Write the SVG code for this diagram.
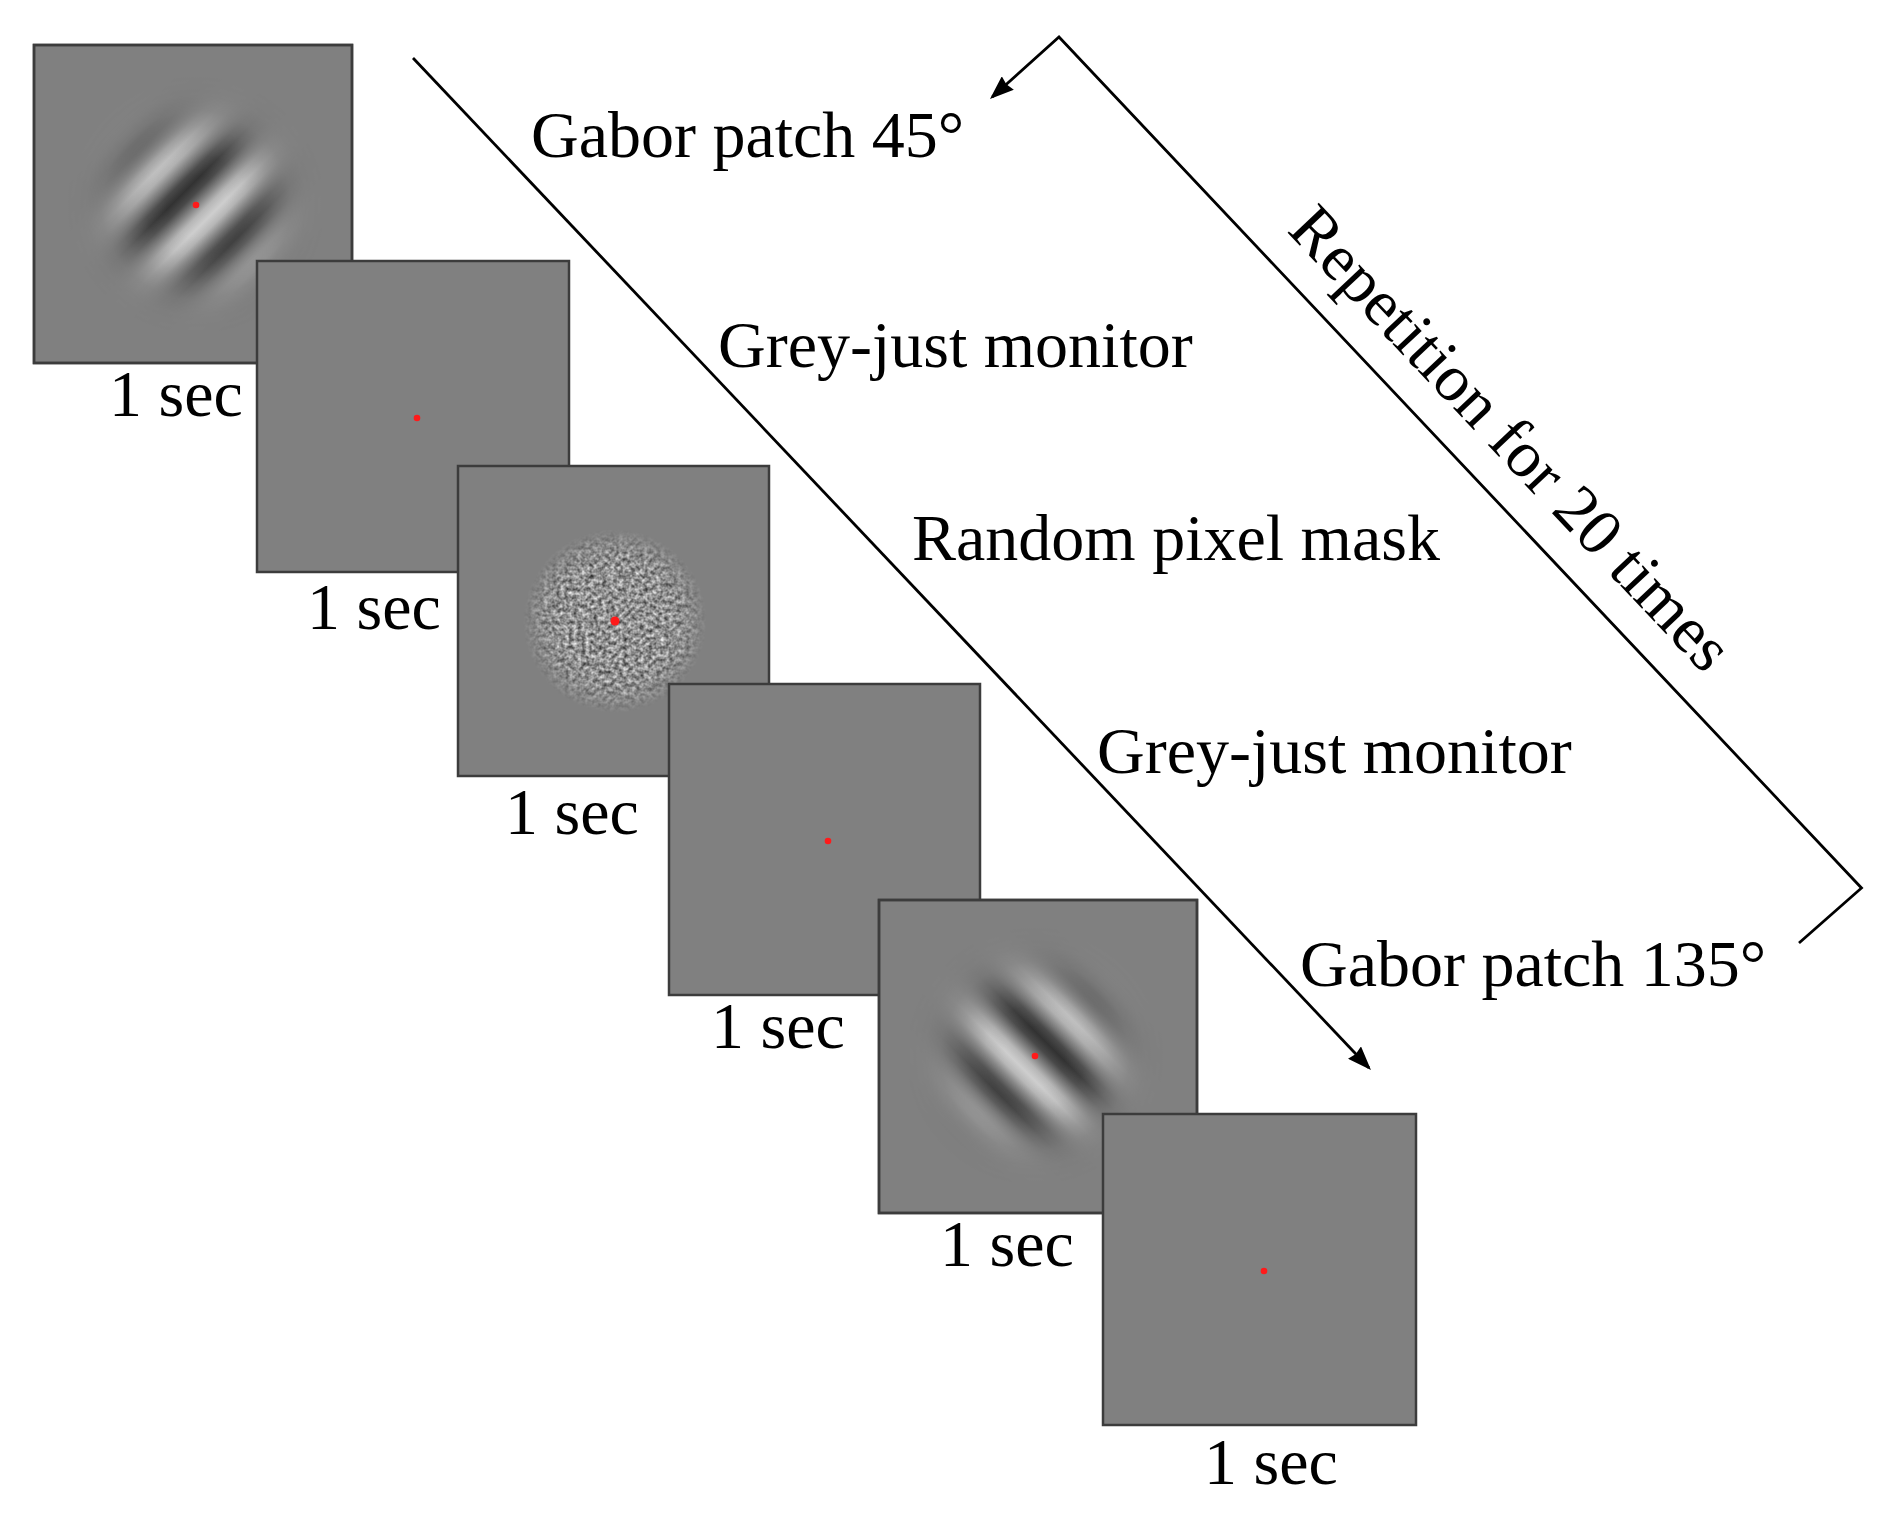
<svg xmlns="http://www.w3.org/2000/svg" width="1884" height="1516" viewBox="0 0 1884 1516">
  <style>
    .frame { fill: #808080; stroke: #3c3c3c; stroke-width: 2.5; }
    .dot { fill: #ff1a1a; }
    .txt { font-family: "Liberation Serif", "Times New Roman", serif; font-size: 66px; fill: #000000; }
    .conn { fill: none; stroke: #000000; stroke-width: 2.8; stroke-linejoin: miter; }
    .s0 { stop-color: #808080; }
    .s1 { stop-color: #b7b7b7; }
    .s2 { stop-color: #cecece; }
    .s5 { stop-color: #494949; }
    .s6 { stop-color: #323232; }
  </style>
  <defs>
    <marker id="arrow" markerUnits="userSpaceOnUse" viewBox="0 0 24 18" markerWidth="24" markerHeight="18" refX="21" refY="9" orient="auto">
      <path d="M0,0 L24,9 L0,18 L2,9 z" fill="#000000"/>
    </marker>
    <linearGradient id="stripes" gradientUnits="userSpaceOnUse" x1="-140" y1="0" x2="140" y2="0">
      <stop offset="0" class="s0"/><stop offset="0.03125" class="s1"/><stop offset="0.0625" class="s2"/><stop offset="0.09375" class="s1"/>
      <stop offset="0.125" class="s0"/><stop offset="0.15625" class="s5"/><stop offset="0.1875" class="s6"/><stop offset="0.21875" class="s5"/>
      <stop offset="0.25" class="s0"/><stop offset="0.28125" class="s1"/><stop offset="0.3125" class="s2"/><stop offset="0.34375" class="s1"/>
      <stop offset="0.375" class="s0"/><stop offset="0.40625" class="s5"/><stop offset="0.4375" class="s6"/><stop offset="0.46875" class="s5"/>
      <stop offset="0.5" class="s0"/><stop offset="0.53125" class="s1"/><stop offset="0.5625" class="s2"/><stop offset="0.59375" class="s1"/>
      <stop offset="0.625" class="s0"/><stop offset="0.65625" class="s5"/><stop offset="0.6875" class="s6"/><stop offset="0.71875" class="s5"/>
      <stop offset="0.75" class="s0"/><stop offset="0.78125" class="s1"/><stop offset="0.8125" class="s2"/><stop offset="0.84375" class="s1"/>
      <stop offset="0.875" class="s0"/><stop offset="0.90625" class="s5"/><stop offset="0.9375" class="s6"/><stop offset="0.96875" class="s5"/>
      <stop offset="1" class="s0"/>
    </linearGradient>
    <radialGradient id="envGrad" gradientUnits="userSpaceOnUse" cx="0" cy="0" r="130">
      <stop offset="0" stop-color="#ffffff" stop-opacity="1"/>
      <stop offset="0.23" stop-color="#ffffff" stop-opacity="1"/>
      <stop offset="0.385" stop-color="#ffffff" stop-opacity="0.85"/>
      <stop offset="0.5" stop-color="#ffffff" stop-opacity="0.6"/>
      <stop offset="0.615" stop-color="#ffffff" stop-opacity="0.32"/>
      <stop offset="0.73" stop-color="#ffffff" stop-opacity="0.11"/>
      <stop offset="0.846" stop-color="#ffffff" stop-opacity="0.025"/>
      <stop offset="1" stop-color="#ffffff" stop-opacity="0"/>
    </radialGradient>
    <mask id="env" maskUnits="userSpaceOnUse" x="-200" y="-200" width="400" height="400">
      <rect x="-200" y="-200" width="400" height="400" fill="url(#envGrad)"/>
    </mask>
    <clipPath id="clip1"><rect x="34" y="45" width="318" height="318"/></clipPath>
    <clipPath id="clip5"><rect x="879" y="900" width="318" height="313"/></clipPath>
    <radialGradient id="discGrad" gradientUnits="userSpaceOnUse" cx="0" cy="0" r="92">
      <stop offset="0" stop-color="#ffffff" stop-opacity="1"/>
      <stop offset="0.55" stop-color="#ffffff" stop-opacity="1"/>
      <stop offset="0.75" stop-color="#ffffff" stop-opacity="0.75"/>
      <stop offset="0.9" stop-color="#ffffff" stop-opacity="0.3"/>
      <stop offset="1" stop-color="#ffffff" stop-opacity="0"/>
    </radialGradient>
    <mask id="disc" maskUnits="userSpaceOnUse" x="-100" y="-100" width="200" height="200">
      <rect x="-100" y="-100" width="200" height="200" fill="url(#discGrad)"/>
    </mask>
    <filter id="noiseF" x="0" y="0" width="1" height="1" color-interpolation-filters="sRGB">
      <feTurbulence type="fractalNoise" baseFrequency="0.24" numOctaves="2" seed="11"/>
      <feColorMatrix type="matrix" values="1.0 0 0 0 0.07  1.0 0 0 0 0.07  1.0 0 0 0 0.07  0 0 0 0 1"/>
    </filter>
  </defs>

  <rect x="0" y="0" width="1884" height="1516" fill="#ffffff"/>

  <g id="connectors">
    <path class="conn" d="M413,58 L1368.9,1067.8" marker-end="url(#arrow)"/>
    <path class="conn" d="M1799,943 L1861.5,888 L1059,37 L992.2,97" marker-end="url(#arrow)"/>
  </g>

  <g id="box1">
    <rect class="frame" x="34" y="45" width="318" height="318"/>
    <g clip-path="url(#clip1)">
      <g transform="translate(196,205) rotate(45)">
        <rect x="-200" y="-200" width="400" height="400" fill="url(#stripes)" mask="url(#env)"/>
      </g>
    </g>
    <rect x="34" y="45" width="318" height="318" fill="none" stroke="#3c3c3c" stroke-width="2.5"/>
    <circle class="dot" cx="196" cy="205" r="3.3"/>
    <text class="txt" x="109" y="416">1 sec</text>
  </g>

  <g id="box2">
    <rect class="frame" x="257" y="261" width="312" height="311"/>
    <circle class="dot" cx="417" cy="418" r="3.3"/>
    <text class="txt" x="307" y="629">1 sec</text>
  </g>

  <g id="box3">
    <rect class="frame" x="458" y="466" width="311" height="310"/>
    <g transform="translate(615,621)">
      <g mask="url(#disc)">
        <rect x="-95" y="-95" width="190" height="190" filter="url(#noiseF)"/>
      </g>
    </g>
    <circle class="dot" cx="615" cy="621" r="4.5"/>
    <text class="txt" x="505" y="834">1 sec</text>
  </g>

  <g id="box4">
    <rect class="frame" x="669" y="684" width="311" height="311"/>
    <circle class="dot" cx="828" cy="841" r="3.3"/>
    <text class="txt" x="711" y="1048">1 sec</text>
  </g>

  <g id="box5">
    <rect class="frame" x="879" y="900" width="318" height="313"/>
    <g clip-path="url(#clip5)">
      <g transform="translate(1035,1056) rotate(135)">
        <rect x="-200" y="-200" width="400" height="400" fill="url(#stripes)" mask="url(#env)"/>
      </g>
    </g>
    <rect x="879" y="900" width="318" height="313" fill="none" stroke="#3c3c3c" stroke-width="2.5"/>
    <circle class="dot" cx="1035" cy="1056" r="3.3"/>
    <text class="txt" x="940" y="1266">1 sec</text>
  </g>

  <g id="box6">
    <rect class="frame" x="1103" y="1114" width="313" height="311"/>
    <circle class="dot" cx="1264" cy="1271" r="3.3"/>
    <text class="txt" x="1204" y="1484">1 sec</text>
  </g>

  <g id="labels">
    <text class="txt" x="531" y="157">Gabor patch 45°</text>
    <text class="txt" x="718" y="367">Grey-just monitor</text>
    <text class="txt" x="912" y="560">Random pixel mask</text>
    <text class="txt" x="1097" y="773">Grey-just monitor</text>
    <text class="txt" x="1300" y="986">Gabor patch 135°</text>
    <text class="txt" transform="translate(1286,231) rotate(46.7)" x="0" y="0">Repetition for 20 times</text>
  </g>
</svg>
